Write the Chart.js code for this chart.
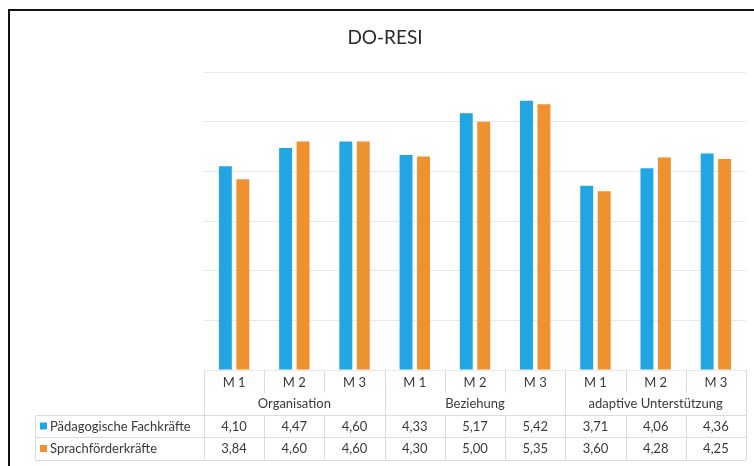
<!DOCTYPE html>
<html>
<head>
<meta charset="utf-8">
<style>
html,body{margin:0;padding:0;background:#fff;}
#wrap{position:relative;width:754px;height:466px;}
</style>
<script src="https://cdn.jsdelivr.net/npm/chart.js@4/dist/chart.umd.min.js"></script>
</head>
<body>
<div id="wrap"><canvas id="c" width="754" height="466"></canvas></div>
<script>
const title = "DO-RESI";
const categories = ["M 1","M 2","M 3","M 1","M 2","M 3","M 1","M 2","M 3"];
const groups = ["Organisation","Beziehung","adaptive Unterstützung"];
const groupSize = 3;
const seriesNames = ["Pädagogische Fachkräfte","Sprachförderkräfte"];
const paedagogische = [4.10,4.47,4.60,4.33,5.17,5.42,3.71,4.06,4.36];
const sprachfoerder = [3.84,4.60,4.60,4.30,5.00,5.35,3.60,4.28,4.25];
const colors = ["#22a6e3","#f0912f"];

const FONT = "Lato, 'Open Sans', sans-serif";
const lineCol = "#dcdcdc";
const textCol = "#3a3a3a";

const tablePlugin = {
  id: 'dataTable',
  afterDraw(chart) {
    const ctx = chart.ctx;
    const xs = chart.scales.x;
    const ca = chart.chartArea;
    const n = categories.length;
    const w = (ca.right - ca.left) / n;
    const top = ca.bottom;
    const r1 = top + 23, r2 = top + 45, r3 = top + 67, r4 = top + 90;
    const legL = 35;
    ctx.save();
    // frame border (top & left)
    ctx.fillStyle = "#111";
    ctx.fillRect(8, 9, 746, 2);
    ctx.fillRect(8, 9, 2, 457);
    // title
    ctx.fillStyle = "#2a2a2a";
    ctx.textAlign = "center";
    ctx.textBaseline = "middle";
    ctx.font = "19px " + FONT;
    ctx.fillText(title, 385, 38);

    ctx.strokeStyle = lineCol;
    ctx.lineWidth = 1;
    const hl = (x1, x2, y) => { ctx.beginPath(); ctx.moveTo(x1, Math.round(y)+0.5); ctx.lineTo(x2, Math.round(y)+0.5); ctx.stroke(); };
    const vl = (x, y1, y2) => { ctx.beginPath(); ctx.moveTo(Math.round(x)+0.5, y1); ctx.lineTo(Math.round(x)+0.5, y2); ctx.stroke(); };
    hl(legL, ca.right, r2);
    hl(legL, ca.right, r3);
    hl(legL, ca.right, r4);
    vl(legL, r2, r4);
    for (let i = 0; i <= n; i++) {
      const x = ca.left + i * w;
      if (i % groupSize === 0) vl(x, top, r4);
      else { vl(x, top, r1); vl(x, r2, r4); }
    }
    ctx.fillStyle = textCol;
    ctx.font = "13px " + FONT;
    categories.forEach((c, i) => {
      ctx.fillText(c, xs.getPixelForValue(i), (top + r1) / 2 + 1);
    });
    groups.forEach((g, gi) => {
      const x0 = xs.getPixelForValue(gi * groupSize), x1 = xs.getPixelForValue(gi * groupSize + groupSize - 1);
      ctx.fillText(g, (x0 + x1) / 2, (r1 + r2) / 2);
    });
    const rows = [paedagogische, sprachfoerder];
    rows.forEach((vals, ri) => {
      const yc = (ri === 0 ? (r2 + r3) / 2 : (r3 + r4) / 2) + 0.5;
      vals.forEach((v, i) => {
        ctx.fillText(v.toFixed(2).replace('.', ','), xs.getPixelForValue(i), yc);
      });
      ctx.fillStyle = colors[ri];
      ctx.fillRect(40, yc - 4, 7, 7);
      ctx.fillStyle = textCol;
      ctx.textAlign = "left";
      ctx.fillText(seriesNames[ri], 50, yc);
      ctx.textAlign = "center";
    });
    ctx.restore();
  }
};

new Chart(document.getElementById('c'), {
  type: 'bar',
  data: {
    labels: categories,
    datasets: [
      { label: seriesNames[0], data: paedagogische, backgroundColor: colors[0], categoryPercentage: 0.58, barPercentage: 0.74 },
      { label: seriesNames[1], data: sprachfoerder, backgroundColor: colors[1], categoryPercentage: 0.58, barPercentage: 0.74 }
    ]
  },
  options: {
    responsive: false,
    animation: false,
    layout: { padding: { left: 204, right: 8, top: 72, bottom: 96 } },
    plugins: {
      legend: { display: false },
      tooltip: { enabled: false },
      title: { display: false }
    },
    scales: {
      x: { display: false },
      y: {
        min: 0, max: 6,
        ticks: { display: false, stepSize: 1 },
        grid: { color: "#e8e8e8", drawTicks: false },
        border: { display: false }
      }
    }
  },
  plugins: [tablePlugin]
});
</script>
</body>
</html>
